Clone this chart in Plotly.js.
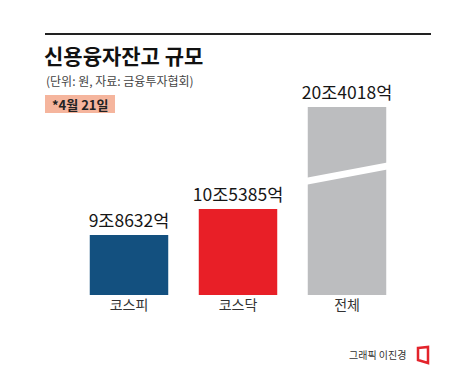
<!DOCTYPE html>
<html>
<head>
<meta charset="utf-8">
<script src="https://cdn.plot.ly/plotly-3.0.1.min.js"></script>
<style>
  html, body { margin: 0; padding: 0; background: #fff; }
  #chart { width: 474px; height: 371px; }
</style>
</head>
<body>
<div id="chart"></div>
<script>
// ---- data ----
const categories = ['코스피', '코스닥', '전체'];
const valuesEok = [98632, 105385, 204018];           // 단위: 억원
const valueLabels = ['9조8632억', '10조5385억', '20조4018억'];
const barColors = ['#13507f', '#e81f27', '#bcbdbf'];

// broken axis: which bars show their label in the lower / upper panel
const lowerLabels = valueLabels.map((t, i) => i < 2 ? t : '');
const upperLabels = valueLabels.map((t, i) => i === 2 ? t : '');

const W = 474, H = 371;
const px = v => v / W;
const py = v => 1 - v / H;

const FONT = '"Noto Sans CJK KR", "Noto Sans", sans-serif';

const common = {
  type: 'bar',
  x: categories,
  y: valuesEok,
  width: 0.72,
  marker: { color: barColors, line: { width: 0 } },
  textposition: 'outside',
  constraintext: 'none',
  cliponaxis: false,
  textfont: { family: FONT, size: 17.5, color: '#161616' },
  hoverinfo: 'skip',
  showlegend: false
};

const traces = [
  Object.assign({}, common, { text: lowerLabels, xaxis: 'x', yaxis: 'y' }),
  Object.assign({}, common, { text: upperLabels, xaxis: 'x2', yaxis: 'y2' })
];

const xDomain = [px(74.5), px(401.5)];

const layout = {
  width: W, height: H,
  margin: { l: 0, r: 0, t: 0, b: 0 },
  paper_bgcolor: '#ffffff',
  plot_bgcolor: 'rgba(0,0,0,0)',
  font: { family: FONT, color: '#222' },
  title: {
    text: '신용융자잔고 규모',
    x: px(44), xanchor: 'left', xref: 'paper',
    y: py(57), yanchor: 'middle', yref: 'paper',
    font: { family: FONT, size: 21, weight: 700, color: '#111' }
  },
  xaxis: {
    domain: xDomain, range: [-0.5, 2.5], anchor: 'y',
    type: 'category', categoryarray: categories,
    showgrid: false, zeroline: false, showline: false, ticks: '',
    tickfont: { family: FONT, size: 14, color: '#333' }
  },
  yaxis: {
    domain: [py(295), py(173)], range: [83048, 114735],
    visible: false, showgrid: false, zeroline: false
  },
  xaxis2: {
    domain: xDomain, range: [-0.5, 2.5], anchor: 'y2',
    type: 'category', categoryarray: categories,
    visible: false, showgrid: false, zeroline: false
  },
  yaxis2: {
    domain: [py(173), py(100)], range: [186876, 205836],
    visible: false, showgrid: false, zeroline: false
  },
  shapes: [
    // top rule
    { type: 'line', xref: 'paper', yref: 'paper',
      x0: px(45), x1: px(431), y0: py(34), y1: py(34),
      line: { color: '#222', width: 2 } },
    // date tag box
    { type: 'rect', xref: 'paper', yref: 'paper',
      x0: px(45), x1: px(115), y0: py(113), y1: py(95),
      fillcolor: '#f5b59d', line: { width: 0 } },
    // break gap on total bar
    { type: 'path', xref: 'paper', yref: 'paper',
      path: `M ${px(305)} ${py(178)} L ${px(390)} ${py(162)} L ${px(390)} ${py(169)} L ${px(305)} ${py(185)} Z`,
      fillcolor: '#ffffff', line: { width: 0 } },
    // logo mark
    { type: 'path', xref: 'paper', yref: 'paper',
      path: `M ${px(418)} ${py(348)} L ${px(428)} ${py(347)} L ${px(428)} ${py(363)} L ${px(418)} ${py(360)} Z`,
      fillcolor: 'rgba(0,0,0,0)', line: { color: '#e3232b', width: 2.5 } }
  ],
  annotations: [
    { text: '(단위: 원, 자료: 금융투자협회)', xref: 'paper', yref: 'paper',
      x: px(44), y: py(80), xanchor: 'left', yanchor: 'middle', showarrow: false,
      font: { family: FONT, size: 12, color: '#444' } },
    { text: '*4월 21일', xref: 'paper', yref: 'paper',
      x: px(80), y: py(104), xanchor: 'center', yanchor: 'middle', showarrow: false,
      font: { family: FONT, size: 13, weight: 700, color: '#222' } },
    { text: '그래픽 이진경', xref: 'paper', yref: 'paper',
      x: px(408), y: py(354), xanchor: 'right', yanchor: 'middle', showarrow: false,
      font: { family: FONT, size: 10, color: '#333' } }
  ]
};

Plotly.newPlot('chart', traces, layout, { staticPlot: true, displayModeBar: false });
</script>
</body>
</html>
